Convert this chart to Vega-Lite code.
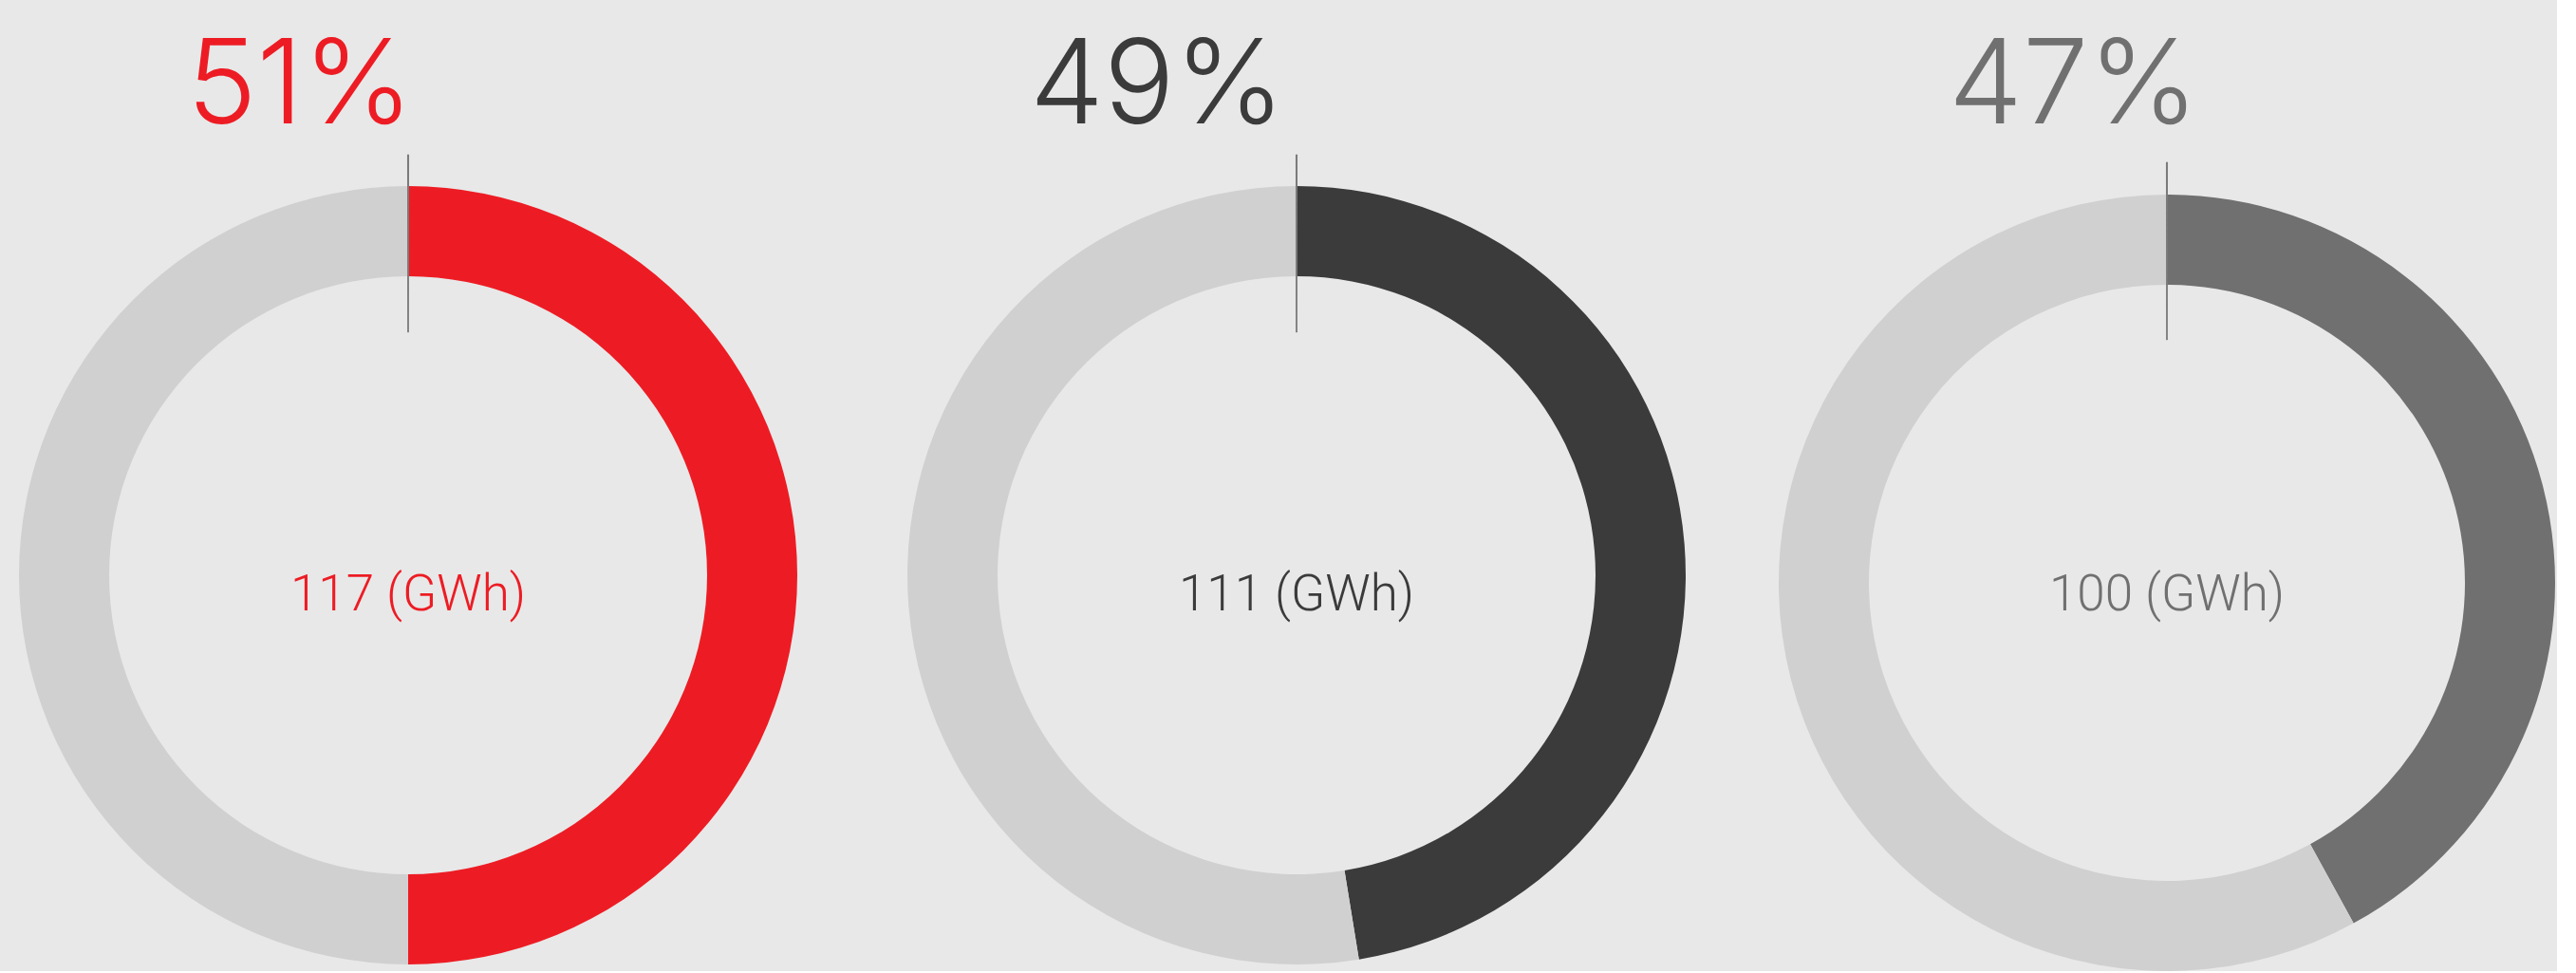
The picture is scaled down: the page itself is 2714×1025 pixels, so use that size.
{
  "$schema": "https://vega.github.io/schema/vega-lite/v6.json",
  "background": "#E8E8E8",
  "padding": {"top": 31, "left": 0, "right": 0, "bottom": 0},
  "spacing": 0,
  "config": {
    "view": {"stroke": null},
    "title": {"font": "Inter", "fontWeight": 300, "fontSize": 124, "baseline": "alphabetic", "anchor": "start", "frame": "group", "offset": 5}
  },
  "datasets": {
    "rings": [
      {"site": "A", "part": "share", "gwh": 117, "label": "117 (GWh)"},
      {"site": "A", "part": "rest", "gwh": 117},
      {"site": "B", "part": "share", "gwh": 111, "label": "111 (GWh)"},
      {"site": "B", "part": "rest", "gwh": 123},
      {"site": "C", "part": "share", "gwh": 100, "label": "100 (GWh)"},
      {"site": "C", "part": "rest", "gwh": 138}
    ]
  },
  "resolve": {"scale": {"color": "independent", "theta": "independent"}},
  "hconcat": [
    {
      "width": 860,
      "height": 400,
      "title": {"text": "51%", "color": "#ED1C24", "dx": 197},
      "data": {"name": "rings"},
      "transform": [{"filter": "datum.site == 'A'"}],
      "layer": [
        {
          "mark": {"type": "arc", "innerRadius": 315, "outerRadius": 410},
          "encoding": {
            "theta": {"field": "gwh", "type": "quantitative", "stack": true},
            "order": {"field": "part", "sort": "descending"},
            "color": {"field": "part", "type": "nominal", "scale": {"domain": ["share", "rest"], "range": ["#ED1C24", "#D0D0D0"]}, "legend": null}
          }
        },
        {
          "transform": [{"filter": "datum.part == 'share'"}],
          "mark": {"type": "arc", "theta": -0.0012, "theta2": 0.0012, "innerRadius": 256, "outerRadius": 443, "color": "#7A7A7A", "stroke": "#7A7A7A", "strokeWidth": 1},
          "encoding": {}
        },
        {
          "transform": [{"filter": "datum.part == 'share'"}],
          "mark": {"type": "text", "font": "Roboto", "fontWeight": 300, "fontSize": 53, "baseline": "alphabetic", "align": "center", "dy": 37, "color": "#ED1C24"},
          "encoding": {"text": {"field": "label", "type": "nominal"}}
        }
      ]
    },
    {
      "width": 1012,
      "height": 400,
      "title": {"text": "49%", "color": "#3B3B3B", "dx": 225},
      "data": {"name": "rings"},
      "transform": [{"filter": "datum.site == 'B'"}],
      "layer": [
        {
          "mark": {"type": "arc", "innerRadius": 315, "outerRadius": 410},
          "encoding": {
            "theta": {"field": "gwh", "type": "quantitative", "stack": true},
            "order": {"field": "part", "sort": "descending"},
            "color": {"field": "part", "type": "nominal", "scale": {"domain": ["share", "rest"], "range": ["#3B3B3B", "#D0D0D0"]}, "legend": null}
          }
        },
        {
          "transform": [{"filter": "datum.part == 'share'"}],
          "mark": {"type": "arc", "theta": -0.0012, "theta2": 0.0012, "innerRadius": 256, "outerRadius": 443, "color": "#7A7A7A", "stroke": "#7A7A7A", "strokeWidth": 1},
          "encoding": {}
        },
        {
          "transform": [{"filter": "datum.part == 'share'"}],
          "mark": {"type": "text", "font": "Roboto", "fontWeight": 300, "fontSize": 53, "baseline": "alphabetic", "align": "center", "dy": 37, "color": "#3B3B3B"},
          "encoding": {"text": {"field": "label", "type": "nominal"}}
        }
      ]
    },
    {
      "width": 822,
      "height": 416,
      "title": {"text": "47%", "color": "#707070", "dx": 181, "dy": -8},
      "data": {"name": "rings"},
      "transform": [{"filter": "datum.site == 'C'"}],
      "layer": [
        {
          "mark": {"type": "arc", "innerRadius": 314, "outerRadius": 409},
          "encoding": {
            "theta": {"field": "gwh", "type": "quantitative", "stack": true},
            "order": {"field": "part", "sort": "descending"},
            "color": {"field": "part", "type": "nominal", "scale": {"domain": ["share", "rest"], "range": ["#707070", "#D0D0D0"]}, "legend": null}
          }
        },
        {
          "transform": [{"filter": "datum.part == 'share'"}],
          "mark": {"type": "arc", "theta": -0.0012, "theta2": 0.0012, "innerRadius": 256, "outerRadius": 443, "color": "#7A7A7A", "stroke": "#7A7A7A", "strokeWidth": 1},
          "encoding": {}
        },
        {
          "transform": [{"filter": "datum.part == 'share'"}],
          "mark": {"type": "text", "font": "Roboto", "fontWeight": 300, "fontSize": 53, "baseline": "alphabetic", "align": "center", "dy": 29, "color": "#707070"},
          "encoding": {"text": {"field": "label", "type": "nominal"}}
        }
      ]
    }
  ]
}
